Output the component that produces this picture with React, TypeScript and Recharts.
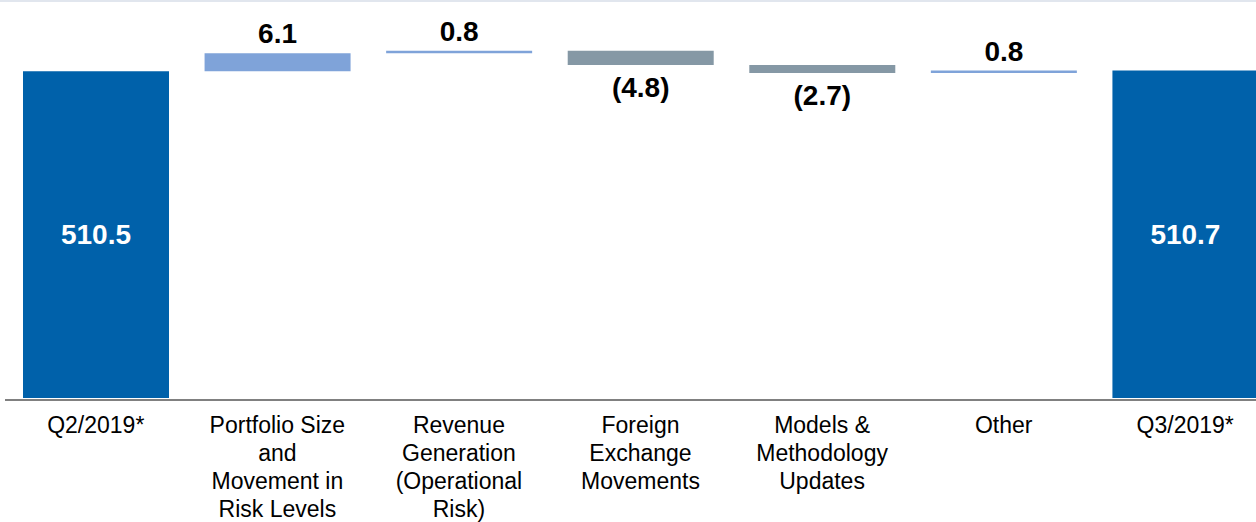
import { BarChart, Bar, XAxis, YAxis, Cell, LabelList } from "recharts";

const categories = [
  "Q2/2019*",
  "Portfolio Size\nand\nMovement in\nRisk Levels",
  "Revenue\nGeneration\n(Operational\nRisk)",
  "Foreign\nExchange\nMovements",
  "Models &\nMethodology\nUpdates",
  "Other",
  "Q3/2019*",
];
const startTotal = 510.5;
const changes = [6.1, 0.8, -4.8, -2.7, 0.8];
const endTotal = 510.7;
const axisFloor = 400;

const FONT = "'Liberation Sans', Arial, sans-serif";
const TOTAL_COLOR = "#0061aa";
const UP_COLOR = "#7fa3d9";
const DOWN_COLOR = "#8598a5";

type Row = { name: string; range: [number, number]; kind: "total" | "up" | "down"; value: number };

const buildRows = (): Row[] => {
  const rows: Row[] = [{ name: categories[0], range: [axisFloor, startTotal], kind: "total", value: startTotal }];
  let running = startTotal;
  changes.forEach((c, i) => {
    const next = running + c;
    rows.push({
      name: categories[i + 1],
      range: [Math.min(running, next), Math.max(running, next)],
      kind: c >= 0 ? "up" : "down",
      value: c,
    });
    running = next;
  });
  rows.push({ name: categories[categories.length - 1], range: [axisFloor, endTotal], kind: "total", value: endTotal });
  return rows;
};

const rows = buildRows();

const colorFor = (kind: Row["kind"]) => (kind === "total" ? TOTAL_COLOR : kind === "up" ? UP_COLOR : DOWN_COLOR);

function BarLabel(props: any) {
  const { x, y, width, height, index } = props;
  const row = rows[index];
  if (!row) return null;
  const cx = Number(x) + Number(width) / 2;
  const top = Math.min(Number(y), Number(y) + Number(height));
  const bottom = Math.max(Number(y), Number(y) + Number(height));
  const common = { fontFamily: FONT, fontSize: 28, fontWeight: 700, textAnchor: "middle" as const };
  if (row.kind === "total") {
    return (
      <text {...common} x={cx} y={(top + bottom) / 2} dominantBaseline="central" fill="#ffffff">
        {row.value.toFixed(1)}
      </text>
    );
  }
  if (row.kind === "up") {
    return (
      <text {...common} x={cx} y={top - 10} fill="#000000">
        {row.value.toFixed(1)}
      </text>
    );
  }
  return (
    <text {...common} x={cx} y={bottom + 32} fill="#000000">
      ({Math.abs(row.value).toFixed(1)})
    </text>
  );
}

function CategoryTick(props: any) {
  const { x, y, payload } = props;
  const lines = String(payload.value).split("\n");
  return (
    <text x={x} y={y} textAnchor="middle" fontFamily={FONT} fontSize={23} fill="#000000">
      {lines.map((line, i) => (
        <tspan key={i} x={x} dy={i === 0 ? 33 : 28}>
          {line}
        </tspan>
      ))}
    </text>
  );
}

export default function App() {
  return (
    <div style={{ position: "fixed", top: 0, left: 0, width: 1256, height: 522, overflow: "hidden", background: "#ffffff" }}>
      <div style={{ position: "absolute", top: 0, left: 0, width: 1256, height: 2, background: "#e1e6ee" }} />
      <BarChart width={1280} height={522} data={rows} margin={{ top: 13.5, right: 4, left: 5, bottom: 0 }}>
        <YAxis hide type="number" domain={[399.3, 530]} allowDataOverflow />
        <XAxis
          dataKey="name"
          interval={0}
          height={122}
          tickLine={false}
          tickSize={0}
          tickMargin={0}
          axisLine={{ stroke: "#808080", strokeWidth: 2 }}
          tick={<CategoryTick />}
        />
        <Bar dataKey="range" barSize={146} isAnimationActive={false}>
          {rows.map((r, i) => (
            <Cell key={i} fill={colorFor(r.kind)} />
          ))}
          <LabelList dataKey="range" content={<BarLabel />} />
        </Bar>
      </BarChart>
    </div>
  );
}
